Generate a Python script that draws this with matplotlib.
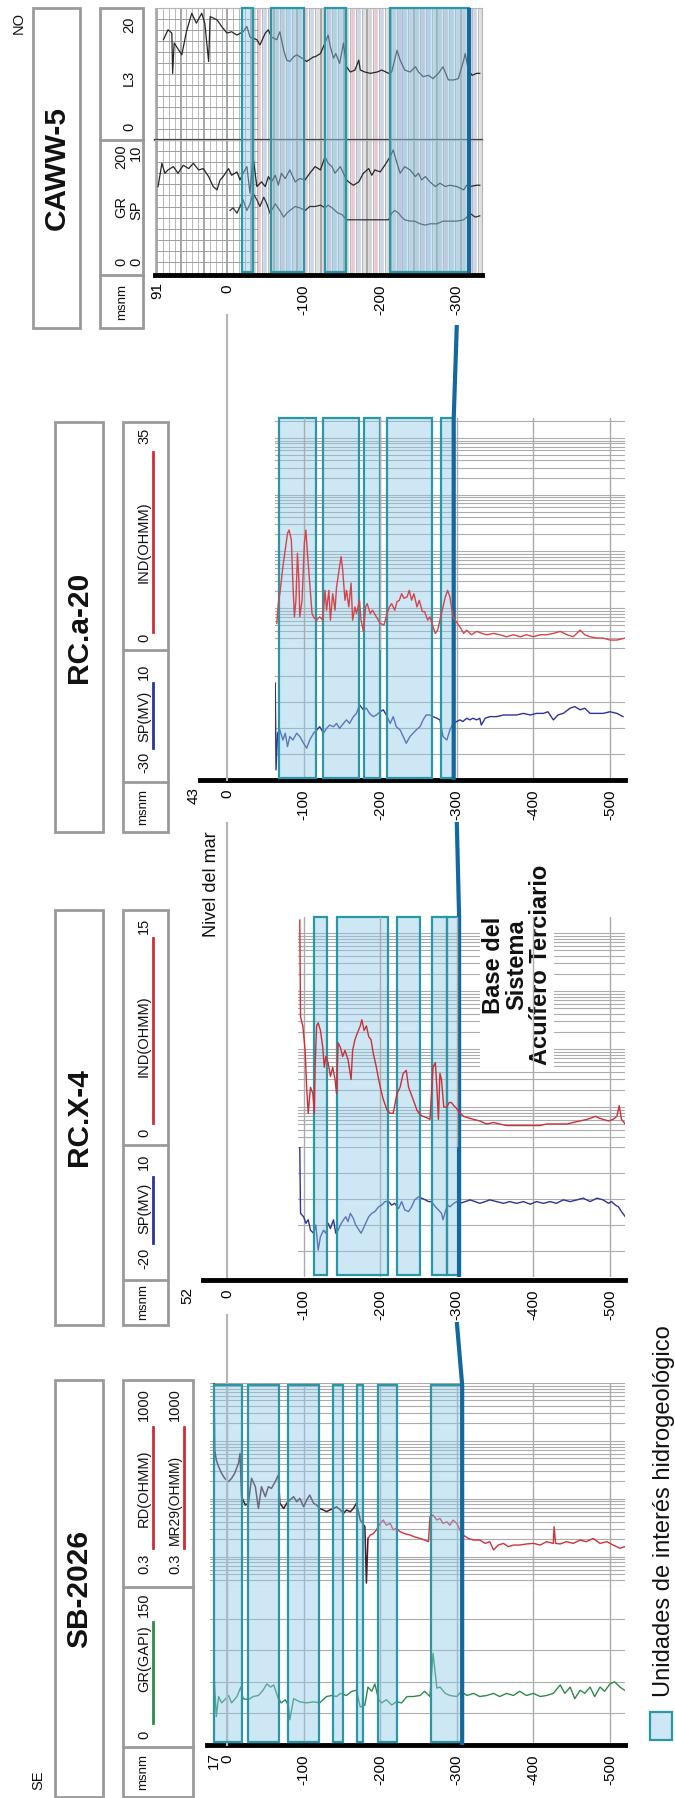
import matplotlib
matplotlib.use("Agg")
import matplotlib.pyplot as plt
import matplotlib.ticker as mticker
from matplotlib.patches import Rectangle
from matplotlib.colors import to_rgba
import numpy as np

plt.rcParams['font.family'] = ['Liberation Sans', 'DejaVu Sans']

# ---------------- data (elevation in m a.s.l.) ----------------
wells = ["CAWW-5", "RC.a-20", "RC.X-4", "SB-2026"]
elevations = [91, 43, 52, 17]
base_depths = [-316, -296, -303, -307]   # base del sistema acuifero terciario
base_regional = -300

caww_units = [(-20, -34), (-57, -100), (-128, -156), (-213, -316)]
rca_units = [(-68, -116), (-125, -172), (-179, -200), (-209, -267), (-279, -295)]
rcx_units = [(-113, -130), (-143, -210), (-222, -252), (-267, -287), (-287, -303)]
sb_units = [(17, -20), (-27, -68), (-80, -120), (-138, -151), (-170, -178),
            (-197, -222), (-266, -307)]

# SB-2026
sb_gr_depth = [17, 14, 11, 7, 3, -2, -6, -13, -18, -21, -28, -34, -41, -47, -52, -57, -61,
               -67, -71, -76, -80, -82, -87, -95, -104, -113, -121, -130, -137, -143, -148,
               -156, -163, -169, -174, -180, -184, -189, -193, -198, -202, -208, -215, -221,
               -228, -235, -243, -252, -258, -265, -269, -274, -278, -285, -291, -300, -306,
               -313, -322, -330, -339, -348, -356, -365, -374, -382, -391, -400, -409, -417,
               -426, -435, -441, -448, -454, -461, -467, -474, -480, -487, -493, -500, -506,
               -513, -519]
sb_gr = [68, 27, 46, 40, 43, 47, 40, 46, 55, 44, 43, 46, 47, 52, 58, 55, 57, 44, 40, 43,
         38, 24, 44, 41, 40, 41, 40, 46, 47, 46, 49, 47, 51, 52, 36, 38, 55, 51, 58, 43,
         40, 43, 38, 41, 40, 46, 46, 47, 51, 46, 87, 54, 55, 49, 47, 46, 51, 47, 49, 46,
         47, 49, 46, 49, 47, 51, 47, 49, 46, 47, 49, 57, 49, 55, 44, 52, 49, 55, 46, 55,
         51, 58, 60, 55, 52]
sb_rd_depth = [17, 16, 14, 11, 7, 3, -2, -6, -10, -15, -17, -19, -24, -28, -32, -37, -41,
               -45, -50, -54, -58, -63, -67, -69, -74, -78, -82, -87, -91, -95, -100, -104,
               -108, -113, -117, -121, -126, -130, -134, -139, -143, -148, -152, -156, -161,
               -165, -169, -174, -180, -182, -184, -187, -191, -195, -200, -204, -208, -213,
               -217, -221, -226, -232, -239, -245, -252, -258, -263, -265, -269, -274, -278,
               -282, -287, -291, -295, -300, -304, -308, -315, -322, -330, -337, -343, -348,
               -354, -361, -367, -374, -382, -391, -400, -409, -417, -426, -427, -429, -435,
               -443, -452, -461, -469, -478, -487, -496, -504, -513, -519]
sb_rd = [1000, 70, 47, 36, 27.5, 22.6, 19.8, 22.6, 27.5, 41, 61, 10.9, 7.8, 8.4, 22.6, 16.2,
         6.8, 16.2, 10.9, 16.2, 15.1, 19.8, 25.8, 8.4, 6.8, 8.4, 9.5, 10.9, 8.9, 10.2, 7.3,
         9.5, 11.6, 8.4, 7.8, 6.8, 6.4, 6.0, 6.4, 6.8, 7.3, 6.4, 5.6, 6.4, 6.0, 6.8, 8.4,
         4.3, 3.3, 0.35, 2.07, 2.37, 2.5, 2.9, 3.77, 4.3, 3.5, 3.77, 2.9, 3.1, 2.7, 2.5,
         2.37, 2.2, 2.07, 1.94, 1.82, 4.9, 5.25, 4.3, 4.6, 3.77, 4.0, 3.5, 4.3, 3.77, 2.9,
         2.37, 2.07, 1.94, 1.94, 1.70, 1.82, 1.31, 1.59, 1.70, 1.49, 1.59, 1.59, 1.66,
         1.70, 1.59, 1.82, 1.70, 3.3, 1.70, 1.66, 1.82, 1.70, 1.94, 1.82, 2.07, 1.70, 1.82,
         1.59, 1.40, 1.49]

# RC.X-4
rcx_ind_depth = [-95, -96, -99, -102, -104, -106, -109, -112, -114, -115, -117, -119, -122,
                 -125, -127, -129, -132, -135, -138, -141, -143, -145, -148, -151, -154, -158,
                 -162, -164, -167, -170, -174, -176, -179, -182, -185, -188, -191, -195, -198,
                 -201, -204, -209, -213, -217, -222, -226, -230, -234, -237, -240, -243, -248,
                 -252, -256, -261, -265, -269, -272, -274, -276, -278, -280, -283, -287, -290,
                 -293, -296, -300, -304, -309, -315, -322, -330, -339, -348, -356, -365, -374,
                 -383, -391, -400, -409, -417, -426, -435, -444, -452, -461, -470, -476, -481,
                 -485, -491, -498, -504, -509, -512, -515, -520]
rcx_ind = [14.8, 8.5, 7.9, 6.3, 3.9, 2.2, 3.9, 3.5, 2.2, 5.2, 7.9, 8.1, 7.6, 6.5, 5.2, 5.9,
           5.5, 4.6, 5.2, 4.4, 3.5, 6.8, 6.5, 5.9, 6.3, 5.7, 4.4, 6.3, 7.0, 7.4, 7.9, 8.3,
           7.6, 7.9, 7.2, 7.0, 6.1, 5.2, 4.4, 3.7, 3.1, 2.4, 2.2, 2.2, 3.5, 3.9, 4.8, 5.0,
           3.9, 3.5, 3.1, 2.4, 2.1, 2.0, 1.9, 1.8, 5.2, 5.5, 3.9, 1.8, 4.8, 4.4, 2.6, 2.6,
           2.9, 2.9, 2.7, 2.5, 2.2, 2.0, 1.9, 1.8, 1.7, 1.5, 1.6, 1.5, 1.4, 1.4, 1.4, 1.4,
           1.4, 1.4, 1.5, 1.5, 1.5, 1.5, 1.6, 1.7, 1.8, 1.9, 2.0, 1.9, 1.8, 1.7, 1.8, 2.0,
           2.7, 1.8, 1.5]
rcx_sp_depth = [-95, -96, -100, -103, -106, -109, -113, -116, -119, -122, -126, -129, -132,
                -135, -139, -142, -145, -148, -152, -155, -158, -161, -165, -168, -171, -175,
                -178, -181, -185, -189, -193, -198, -202, -206, -211, -215, -219, -224, -228,
                -232, -237, -241, -245, -250, -254, -259, -263, -267, -272, -276, -280, -282,
                -285, -288, -291, -296, -300, -304, -311, -317, -324, -330, -337, -343, -352,
                -361, -369, -378, -387, -396, -404, -413, -422, -430, -439, -448, -457, -465,
                -474, -483, -491, -498, -502, -507, -511, -515, -520]
rcx_sp = [10.0, -5.3, -6.1, -7.6, -6.8, -9.2, -9.9, -8.0, -13.8, -10.7, -9.2, -9.9, -7.6,
          -8.8, -6.8, -9.9, -9.2, -8.0, -6.8, -6.1, -7.2, -5.3, -6.5, -8.0, -8.8, -9.9, -8.8,
          -7.6, -6.1, -5.3, -4.9, -3.8, -3.4, -2.6, -2.6, -3.4, -3.0, -4.2, -2.6, -4.5, -4.9,
          -3.8, -2.2, -1.5, -1.8, -2.2, -2.6, -2.6, -3.8, -4.5, -5.3, -6.8, -4.9, -3.4, -3.8,
          -3.0, -2.6, -3.0, -2.6, -2.2, -2.6, -3.0, -2.6, -2.2, -2.6, -3.0, -2.6, -3.0, -2.6,
          -3.2, -2.6, -3.0, -2.6, -3.0, -2.2, -2.6, -2.2, -1.8, -2.6, -1.8, -2.2, -3.0, -2.6,
          -3.4, -3.8, -4.9, -6.1]

# RC.a-20
rca_ind_depth = [-65, -67, -69, -73, -76, -79, -81, -84, -86, -88, -90, -92, -94, -95, -98,
                 -101, -103, -105, -108, -111, -114, -117, -121, -125, -128, -130, -133, -135,
                 -138, -141, -143, -147, -149, -151, -154, -156, -159, -162, -164, -167, -169,
                 -173, -175, -178, -181, -183, -187, -190, -195, -200, -205, -209, -212, -215,
                 -219, -222, -225, -228, -231, -235, -238, -241, -244, -248, -251, -255, -258,
                 -262, -265, -269, -272, -275, -278, -282, -285, -288, -291, -295, -298, -302,
                 -305, -309, -313, -319, -326, -333, -339, -348, -356, -365, -374, -383, -391,
                 -400, -409, -417, -426, -435, -444, -452, -461, -467, -474, -483, -491, -500,
                 -509, -520]
rca_ind = [4.0, 7.0, 8.5, 12.6, 15.1, 17.6, 18.1, 16.6, 10.1, 5.0, 7.5, 14.6, 10.1, 5.0, 7.5,
           16.1, 18.1, 14.6, 10.1, 5.5, 4.8, 4.5, 5.0, 4.5, 9.0, 6.0, 9.0, 4.5, 8.5, 6.0,
           9.5, 12.6, 14.1, 12.1, 7.5, 9.0, 6.5, 10.1, 4.5, 6.5, 5.5, 7.5, 4.5, 2.8, 6.5,
           7.0, 5.5, 6.0, 5.0, 4.0, 3.8, 5.5, 6.5, 7.0, 6.0, 7.3, 7.5, 8.5, 7.8, 8.0, 9.0,
           7.5, 8.5, 6.5, 7.5, 5.8, 5.8, 4.5, 5.0, 3.5, 2.5, 3.0, 4.5, 6.5, 8.0, 9.0, 8.0,
           5.0, 4.5, 3.8, 3.3, 2.5, 3.0, 2.3, 2.8, 2.5, 2.3, 2.5, 2.3, 2.0, 2.3, 2.0, 2.3,
           2.0, 2.3, 2.3, 2.5, 2.8, 2.3, 2.0, 3.0, 2.3, 2.0, 1.8, 1.8, 1.5, 1.5, 1.8]
rca_sp_depth = [-63, -64, -66, -69, -73, -76, -79, -82, -86, -91, -95, -100, -104, -108, -113,
                -117, -121, -126, -130, -134, -139, -143, -147, -152, -156, -160, -165, -169,
                -173, -178, -182, -186, -191, -195, -200, -204, -208, -213, -217, -221, -226,
                -230, -234, -239, -243, -247, -252, -256, -260, -265, -269, -274, -278, -282,
                -287, -291, -295, -300, -304, -308, -313, -317, -321, -326, -330, -332, -337,
                -343, -352, -361, -369, -378, -387, -396, -404, -413, -419, -426, -432, -439,
                -448, -454, -461, -467, -474, -482, -491, -500, -509, -517]
rca_sp = [-0.2, -26.9, -15.6, -14.6, -17.7, -15.6, -19.7, -16.6, -17.7, -15.6, -16.6, -18.7,
          -20.2, -17.7, -15.6, -14.6, -13.6, -15.6, -14.1, -13.1, -13.6, -12.6, -14.1, -12.6,
          -11.5, -12.6, -10.5, -9.5, -6.9, -8.4, -7.9, -9.5, -10.5, -10.0, -9.0, -8.4, -10.0,
          -12.6, -10.5, -13.6, -14.6, -16.6, -18.7, -16.6, -15.6, -14.6, -13.6, -11.5, -10.0,
          -10.0, -10.5, -11.0, -11.5, -16.6, -17.7, -14.6, -12.6, -12.0, -11.5, -12.0, -11.0,
          -11.5, -11.0, -11.5, -11.0, -13.1, -11.0, -10.5, -10.5, -10.0, -10.0, -10.0, -9.5,
          -10.0, -9.5, -9.5, -9.0, -11.5, -10.0, -9.5, -7.9, -7.4, -8.4, -7.9, -9.5, -9.5,
          -9.5, -9.0, -9.5, -10.5]

# CAWW-5
caww_l3_depth = [83, 77, 72, 71, 69, 59, 53, 46, 40, 33, 29, 24, 22, 13, 7, 0, -6, -13, -21,
                 -26, -30, -39, -43, -50, -54, -58, -65, -69, -74, -78, -82, -87, -91, -98,
                 -104, -113, -115, -122, -128, -132, -135, -139, -142, -147, -150, -152, -156,
                 -161, -167, -172, -174, -180, -187, -196, -202, -211, -215, -222, -226, -232,
                 -239, -246, -250, -256, -263, -269, -276, -282, -289, -296, -302, -309, -311,
                 -315, -320, -326, -330]
caww_l3 = [15.2, 16.7, 16.2, 10.1, 14.7, 12.9, 16.4, 19.2, 17.7, 19.2, 17.7, 11.9, 18.7,
           18.2, 17.2, 16.2, 16.4, 15.9, 16.4, 17.2, 15.6, 15.2, 14.4, 16.2, 16.7, 15.6,
           15.2, 16.4, 13.6, 12.1, 11.9, 12.6, 12.9, 12.4, 11.9, 12.6, 12.6, 13.1, 14.7,
           15.9, 14.1, 12.4, 13.1, 11.6, 13.4, 14.7, 11.1, 10.3, 10.6, 12.1, 10.6, 10.3,
           10.1, 10.3, 10.6, 10.1, 10.3, 13.6, 12.1, 10.6, 10.3, 11.1, 10.3, 9.6, 9.8, 9.3,
           10.1, 11.1, 9.1, 9.1, 9.3, 12.1, 13.1, 10.6, 9.8, 10.1, 10.1]
caww_gr_depth = [90, 85, 81, 77, 70, 64, 57, 50, 44, 37, 31, 24, 18, 13, 9, 5, -2, -6, -13,
                 -17, -21, -26, -30, -34, -39, -45, -50, -54, -58, -63, -67, -71, -76, -82,
                 -89, -95, -102, -108, -115, -122, -128, -132, -137, -141, -148, -152, -156,
                 -161, -165, -172, -178, -185, -189, -193, -200, -206, -213, -217, -222, -226,
                 -232, -239, -246, -250, -254, -259, -265, -272, -278, -285, -291, -300, -309,
                 -313, -317, -326, -330]
caww_gr = [130, 165, 150, 155, 160, 150, 162, 157, 165, 155, 157, 145, 130, 125, 140, 145,
           157, 147, 152, 140, 150, 160, 120, 175, 130, 137, 130, 145, 137, 147, 132, 150,
           142, 155, 137, 142, 140, 150, 160, 155, 175, 165, 160, 150, 160, 150, 140, 135,
           132, 137, 150, 157, 147, 155, 152, 162, 175, 185, 165, 150, 160, 155, 145, 150,
           140, 145, 137, 130, 135, 130, 132, 130, 125, 132, 130, 132, 132]
caww_sp_depth = [-4, -8, -13, -17, -21, -26, -30, -34, -39, -43, -48, -52, -56, -63, -69, -74,
                 -78, -82, -89, -95, -102, -108, -115, -122, -128, -132, -137, -141, -145,
                 -150, -156, -165, -174, -182, -191, -200, -211, -215, -219, -224, -228, -232,
                 -239, -245, -252, -259, -265, -274, -282, -291, -300, -309, -313, -317, -324,
                 -330]
caww_sp = [4.7, 4.9, 4.5, 5.0, 5.5, 4.7, 5.2, 6.0, 5.5, 5.0, 5.7, 5.2, 4.5, 5.2, 4.7, 4.2,
           4.5, 4.7, 5.0, 4.9, 4.7, 5.0, 5.0, 5.1, 4.9, 5.1, 4.9, 4.7, 4.5, 4.4, 4.0, 4.0,
           4.0, 4.0, 4.0, 4.0, 4.0, 4.5, 4.7, 4.5, 4.2, 4.0, 3.9, 3.9, 3.7, 3.6, 3.7, 3.7,
           3.9, 3.9, 3.9, 4.0, 4.2, 4.5, 4.2, 4.3]

depth_ticks = [0, -100, -200, -300, -400, -500]

# ---------------- sheet geometry (the figure is drawn rotated) ----------------
W, H = 675, 1798
SEA_PX = 227.0      # column of sea level
PX_PER_M = 0.766

BOX_FC = to_rgba('#92cae9', 0.45)
BOX_EC = '#2a97a6'
FRAME = '#9a9a9a'
GRID = '#ababab'
RED = '#cc2f38'
BLUE = '#2e3397'
GREEN = '#2f8a4a'
BASE = '#13689f'


def depth_at(px):
    return (SEA_PX - px) / PX_PER_M


fig = plt.figure(figsize=(W / 100, H / 100), dpi=100)


def pax(x0, x1, y0, y1):
    return fig.add_axes([x0 / W, 1 - y1 / H, (x1 - x0) / W, (y1 - y0) / H])


def hide_ticks(a):
    a.tick_params(which='both', left=False, right=False, bottom=False, top=False,
                  labelleft=False, labelright=False, labelbottom=False)


def track(x0, x1, y0, y1, ylim, log=False):
    a = pax(x0, x1, y0, y1)
    if log:
        a.set_yscale('log')
    a.set_xticks(depth_ticks)
    a.set_xlim(depth_at(x0), depth_at(x1))
    a.set_ylim(*ylim)
    a.patch.set_visible(False)
    for s in a.spines.values():
        s.set_visible(False)
    hide_ticks(a)
    a.grid(axis='x', color=GRID, lw=1.0)
    return a


def log_grid(a, lo, hi):
    g = a.twinx()
    g.set_yscale('log')
    g.set_ylim(lo, hi)
    g.yaxis.set_major_locator(mticker.LogLocator(base=10, numticks=12))
    g.yaxis.set_minor_locator(mticker.LogLocator(base=10, subs=np.arange(2, 10), numticks=40))
    g.grid(True, which='both', axis='y', color=GRID, lw=0.8)
    for s in g.spines.values():
        s.set_visible(False)
    hide_ticks(g)
    hide_ticks(a)
    a.set_zorder(g.get_zorder() + 1)
    return g


def depth_axis(x0, x1, y, ticks):
    a = pax(x0, x1, y - 1, y)
    a.set_xticks(ticks)
    a.set_xlim(depth_at(x0), depth_at(x1))
    a.set_yticks([])
    for s in ['top', 'left', 'right']:
        a.spines[s].set_visible(False)
    a.spines['bottom'].set_linewidth(3.5)
    a.set_xticklabels([str(t) for t in ticks], rotation=90, fontsize=11)
    a.tick_params(axis='x', length=0, pad=7)
    a.patch.set_visible(False)


# ---- SB-2026 ----
sb_res = track(210, 625, 1383, 1587, (0.3, 1000), log=True)
sb_res.yaxis.set_minor_locator(mticker.LogLocator(base=10, subs=np.arange(2, 10), numticks=40))
sb_res.grid(True, which='both', axis='y', color=GRID, lw=0.8)
hide_ticks(sb_res)
d = np.array(sb_rd_depth)
v = np.array(sb_rd)
up = d >= -184
sb_res.plot(d[up], v[up], color='#4c1b2b', lw=1.1)
sb_res.plot(np.r_[d[up][-1], d[~up]], np.r_[v[up][-1], v[~up]], color='#d2313b', lw=1.0)
sb_grt = track(210, 625, 1587, 1745, (0, 150))
sb_grt.set_yticks([30, 60, 90, 120])
sb_grt.grid(True, axis='y', color=GRID, lw=0.8)
hide_ticks(sb_grt)
sb_grt.plot(sb_gr_depth, sb_gr, color=GREEN, lw=1.0)

# ---- RC.X-4 ----
rcx_res = track(298, 625, 917, 1147, (0, 15))
log_grid(rcx_res, 0.204, 1886)
rcx_res.plot(rcx_ind_depth, rcx_ind, color=RED, lw=1.0)
rcx_spt = track(298, 625, 1147, 1277, (-20, 10))
rcx_spt.set_yticks([-14, -8, -2, 4, 10])
rcx_spt.grid(True, axis='y', color=GRID, lw=0.8)
hide_ticks(rcx_spt)
rcx_spt.plot(rcx_sp_depth, rcx_sp, color=BLUE, lw=1.0)

# ---- RC.a-20 ----
rca_res = track(275, 625, 418, 650, (0, 35))
log_grid(rca_res, 0.183, 2243)
rca_res.plot(rca_ind_depth, rca_ind, color='#d6434c', lw=1.0)
rca_spt = track(275, 625, 650, 780, (-30, 10))
rca_spt.set_yticks([-22, -14, -6, 2])
rca_spt.grid(True, axis='y', color=GRID, lw=0.8)
hide_ticks(rca_spt)
rca_spt.plot(rca_sp_depth, rca_sp, color=BLUE, lw=1.0)

# ---- CAWW-5 (scanned log) ----
caww_top = track(155, 482, 8, 140, (0, 20))
caww_bot = track(155, 482, 140, 273, (0, 200))
caww_top.grid(False)
caww_bot.grid(False)
ft_lines = np.arange(91, -334, -7.62)
stripe_cols = ['#d4d4d4', '#e6c9d2', '#cdd6e6', '#dedede']
for a, top in ((caww_top, 20), (caww_bot, 200)):
    for i, dd in enumerate(ft_lines):
        if dd < -25:
            a.axvline(dd - 3.8, color=stripe_cols[i % 4], lw=2.6, zorder=0)
        a.axvline(dd, color='#8e8e8e' if i % 4 == 0 else '#b9b9b9',
                  lw=1.1 if i % 4 == 0 else 0.7, zorder=0.5)
    a.hlines(np.linspace(0, top, 13)[1:-1], 91, -40, color='#a0a0a0', lw=0.7, zorder=0.5)
    for s in ('left', 'top', 'right'):
        a.spines[s].set_visible(True)
        a.spines[s].set_color('#b5b5b5')
caww_top.spines['bottom'].set_visible(True)
caww_top.spines['bottom'].set_color('#3a3a3a')
caww_top.spines['bottom'].set_linewidth(1.6)
caww_top.plot(caww_l3_depth, caww_l3, color='#262626', lw=0.9)
caww_bot.plot(caww_gr_depth, caww_gr, color='#262626', lw=0.9)
caww_bot.plot(caww_sp_depth, [s * 20 for s in caww_sp], color='#303030', lw=0.9)

# ---- depth axes ----
depth_axis(155, 482, 275, [0, -100, -200, -300])
depth_axis(200, 625, 780, depth_ticks)
depth_axis(203, 625, 1280, depth_ticks)
depth_axis(207, 625, 1745, depth_ticks)

# ---------------- overlay in depth units ----------------
ov = pax(0, W, 0, H)
ov.set_xlim(depth_at(0), depth_at(W))
ov.set_ylim(H, 0)
ov.axis('off')

unit_rows = [(caww_units, 8, 272), (rca_units, 418, 778), (rcx_units, 917, 1275),
             (sb_units, 1385, 1742)]
for units, y0, y1 in unit_rows:
    for top, bot in units:
        ov.add_patch(Rectangle((top, y0), bot - top, y1 - y0, fc=BOX_FC, ec=BOX_EC, lw=1.6))

# sea level
for y0, y1 in [(315, 780), (823, 1277), (1315, 1745)]:
    ov.plot([0, 0], [y0, y1], color='#b4b4b4', lw=1.5, zorder=0)

# base del sistema acuifero terciario
axis_rows = [(8, 8, 273), (325, 418, 780), (822, 917, 1277), (1322, 1385, 1745)]
for (yg, yt, yb), b in zip(axis_rows, base_depths):
    if yg == yt:
        ov.plot([b, b], [yt, yb], color=BASE, lw=3, solid_capstyle='butt')
    else:
        ov.plot([base_regional, b, b], [yg, yt, yb], color=BASE, lw=3,
                solid_capstyle='butt')

axis_y = [275, 780, 1280, 1745]
for e, ya in zip(elevations, axis_y):
    ov.text(e, ya + 7, str(e), rotation=90, ha='center', va='top', fontsize=11)

# ---------------- layout overlay (pixels) ----------------
lay = pax(0, W, 0, H)
lay.set_xlim(0, W)
lay.set_ylim(H, 0)
lay.axis('off')


def vtext(x, y, s, size=10.5, weight='normal', va='center', **kw):
    lay.text(x, y, s, rotation=90, fontsize=size, fontweight=weight, ha='center',
             va=va, color='#111111', **kw)


def frame(x0, x1, y0, y1, divs=()):
    lay.add_patch(Rectangle((x0, y0), x1 - x0, y1 - y0, fill=False, ec=FRAME, lw=2))
    for yd in divs:
        lay.plot([x0, x1], [yd, yd], color=FRAME, lw=2)


def uline(x, y0, y1, c):
    lay.plot([x, x], [y0, y1], color=c, lw=2)


# titles
title_boxes = [(33, 80, 8, 328), (55, 103, 422, 832), (55, 103, 910, 1325),
               (55, 103, 1380, 1797)]
for name, (x0, x1, y0, y1) in zip(wells, title_boxes):
    frame(x0, x1, y0, y1)
    vtext((x0 + x1) / 2, (y0 + y1) / 2, name, size=21.5, weight='bold')

# CAWW-5 header
frame(100, 143, 8, 328, (140, 275))
vtext(122, 302, 'msnm', size=9.5)
for y, s in ((262, '0'), (207, 'GR'), (157, '200')):
    vtext(121, y, s)
for y, s in ((262, '0'), (210, 'SP'), (153, '10')):
    vtext(136, y, s)
for y, s in ((127, '0'), (78, 'L3'), (25, '20')):
    vtext(129, y, s)

# RC.a-20 header
frame(123, 168, 422, 832, (650, 782))
vtext(143, 807, 'msnm', size=9.5)
vtext(144, 762, '-30'); vtext(144, 716, 'SP(MV)'); vtext(144, 672, '10')
uline(153, 683, 748, BLUE)
vtext(144, 638, '0'); vtext(144, 542, 'IND(OHMM)'); vtext(144, 436, '35')
uline(153, 452, 632, RED)

# RC.X-4 header
frame(123, 168, 910, 1325, (1145, 1280))
vtext(143, 1302, 'msnm', size=9.5)
vtext(144, 1258, '-20'); vtext(144, 1208, 'SP(MV)'); vtext(144, 1162, '10')
uline(153, 1177, 1243, BLUE)
vtext(144, 1133, '0'); vtext(144, 1036, 'IND(OHMM)'); vtext(144, 926, '15')
uline(153, 938, 1123, RED)

# SB-2026 header
frame(123, 193, 1380, 1797, (1587, 1747))
vtext(143, 1772, 'msnm', size=9.5)
vtext(144, 1735, '0'); vtext(144, 1659, 'GR(GAPI)'); vtext(144, 1605, '150')
uline(153, 1622, 1723, GREEN)
vtext(144, 1564, '0.3'); vtext(144, 1488, 'RD(OHMM)'); vtext(144, 1405, '1000')
uline(153, 1427, 1548, RED)
vtext(175, 1564, '0.3'); vtext(175, 1500, 'MR29(OHMM)', size=10); vtext(175, 1405, '1000')
uline(184, 1427, 1548, RED)

# annotations
vtext(19, 23, 'NO', size=10.5)
vtext(38, 1780, 'SE', size=10.5)
vtext(212, 937, 'Nivel del mar', size=13, va='bottom')
vtext(517, 965, 'Base del\nSistema\nAcuífero Terciario', size=17, weight='bold',
      multialignment='center', linespacing=1.05,
      bbox=dict(fc='white', ec='none', pad=1))

# legend
lay.add_patch(Rectangle((650, 1712), 22, 28, fc=BOX_FC, ec=BOX_EC, lw=1.6))
vtext(664, 1697, 'Unidades de interés hidrogeológico', size=17, va='bottom')

fig.savefig('out.png', dpi=100)
